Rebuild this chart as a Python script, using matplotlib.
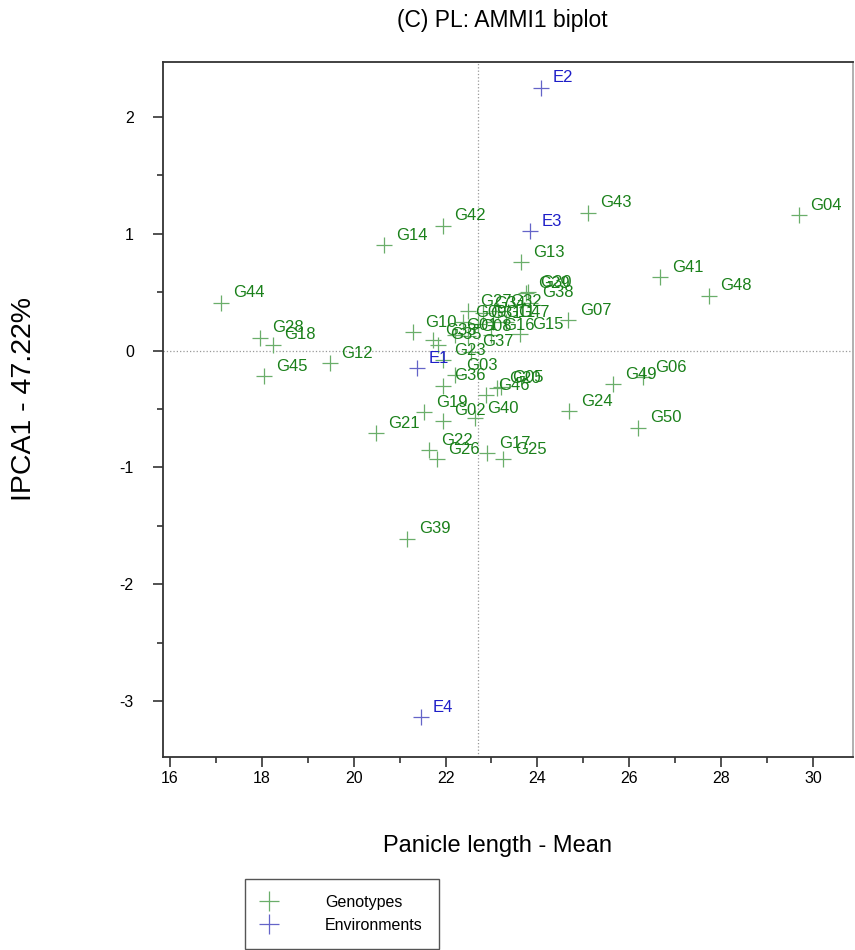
import matplotlib.pyplot as plt
from matplotlib.ticker import MultipleLocator
from matplotlib.lines import Line2D

plt.rcParams['font.family'] = ['Liberation Sans', 'DejaVu Sans']
plt.rcParams['axes.unicode_minus'] = False

# genotype scores (mean panicle length, IPCA1)
gen_names = ['G01', 'G02', 'G03', 'G04', 'G05', 'G06', 'G07', 'G08', 'G09', 'G10',
             'G11', 'G12', 'G13', 'G14', 'G15', 'G16', 'G17', 'G18', 'G19', 'G20',
             'G21', 'G22', 'G23', 'G24', 'G25', 'G26', 'G27', 'G28', 'G29', 'G30',
             'G31', 'G32', 'G33', 'G34', 'G35', 'G36', 'G37', 'G38', 'G39', 'G40',
             'G41', 'G42', 'G43', 'G44', 'G45', 'G46', 'G47', 'G48', 'G49', 'G50']
gen_mean = [22.20, 21.94, 22.20, 29.69, 23.20, 26.30, 24.67, 22.49, 22.38, 21.29,
            23.03, 19.48, 23.64, 20.66, 23.62, 22.99, 22.90, 18.24, 21.53, 23.12,
            20.49, 21.64, 21.94, 24.69, 23.25, 21.81, 22.49, 17.96, 23.75, 23.80,
            22.71, 23.14, 21.73, 22.81, 21.84, 21.94, 22.55, 23.84, 21.16, 22.64,
            26.67, 21.94, 25.10, 17.11, 18.05, 22.88, 23.32, 27.73, 25.65, 26.19]
gen_ipca1 = [0.13, -0.60, -0.21, 1.16, -0.31, -0.23, 0.26, 0.12, 0.24, 0.16,
             0.24, -0.11, 0.76, 0.90, 0.14, 0.13, -0.88, 0.05, -0.53, -0.32,
             -0.71, -0.85, -0.08, -0.52, -0.93, -0.93, 0.34, 0.11, 0.49, 0.50,
             0.23, 0.34, 0.09, 0.32, 0.05, -0.30, -0.01, 0.41, -1.61, -0.58,
             0.63, 1.07, 1.18, 0.41, -0.22, -0.38, 0.24, 0.47, -0.29, -0.66]

env_names = ['E1', 'E2', 'E3', 'E4']
env_mean = [21.38, 24.08, 23.84, 21.46]
env_ipca1 = [-0.15, 2.25, 1.02, -3.14]

grand_mean = 22.71

gen_mark = '#6aae6a'
gen_text = '#1a801a'
env_mark = '#6464c8'
env_text = '#1e1ec8'

fig = plt.figure(figsize=(8.55, 9.5), dpi=100)
ax = fig.add_axes([163 / 855, 1 - 757 / 950, 690 / 855, 695 / 950])

ax.axhline(0, color='#999999', linestyle=':', linewidth=0.9, zorder=1)
ax.axvline(grand_mean, color='#999999', linestyle=':', linewidth=0.9, zorder=1)

ax.plot(gen_mean, gen_ipca1, linestyle='none', marker='+', markersize=12,
        markeredgewidth=0.9, color=gen_mark, zorder=2)
ax.plot(env_mean, env_ipca1, linestyle='none', marker='+', markersize=12,
        markeredgewidth=0.9, color=env_mark, zorder=2)

for n, x, y in zip(gen_names, gen_mean, gen_ipca1):
    ax.annotate(n, (x, y), xytext=(8.5, 7), textcoords='offset points',
                ha='left', va='center', fontsize=12, color=gen_text, zorder=3)
for n, x, y in zip(env_names, env_mean, env_ipca1):
    ax.annotate(n, (x, y), xytext=(8.5, 7), textcoords='offset points',
                ha='left', va='center', fontsize=12, color=env_text, zorder=3)

ax.set_xlim(15.85, 30.87)
ax.set_ylim(-3.48, 2.47)
ax.xaxis.set_major_locator(MultipleLocator(2))
ax.xaxis.set_minor_locator(MultipleLocator(1))
ax.yaxis.set_major_locator(MultipleLocator(1))
ax.yaxis.set_minor_locator(MultipleLocator(0.5))
ax.tick_params(which='major', length=7, width=1.2, color='#333333', labelsize=11.5)
ax.tick_params(which='minor', length=4, width=1.2, color='#333333')
ax.tick_params(axis='y', pad=14)
ax.tick_params(axis='x', pad=3)
for s in ax.spines.values():
    s.set_linewidth(1.3)
    s.set_color('#333333')
ax.spines['right'].set_color('#aaaaaa')

fig.text(502 / 855, 1 - 20 / 950, '(C) PL: AMMI1 biplot', ha='center', va='center', fontsize=16.5)
fig.text(497 / 855, 1 - 846 / 950, 'Panicle length - Mean', ha='center', va='center', fontsize=17)
fig.text(24 / 855, 1 - 399 / 950, 'IPCA1 - 47.22%', ha='center', va='center',
         rotation=90, fontsize=20.5)

handles = [Line2D([], [], linestyle='none', marker='+', markersize=14,
                  markeredgewidth=0.9, color=gen_mark),
           Line2D([], [], linestyle='none', marker='+', markersize=14,
                  markeredgewidth=0.9, color=env_mark)]
fig.legend(handles, ['Genotypes', 'Environments'], loc='upper left',
           bbox_to_anchor=(245 / 855, 1 - 879 / 950), fontsize=11.5,
           frameon=True, fancybox=False, edgecolor='#555555', framealpha=1,
           handlelength=1.0, handletextpad=3.0, labelspacing=0.5,
           borderpad=1.0, borderaxespad=0)

plt.savefig('out.png', dpi=100)
